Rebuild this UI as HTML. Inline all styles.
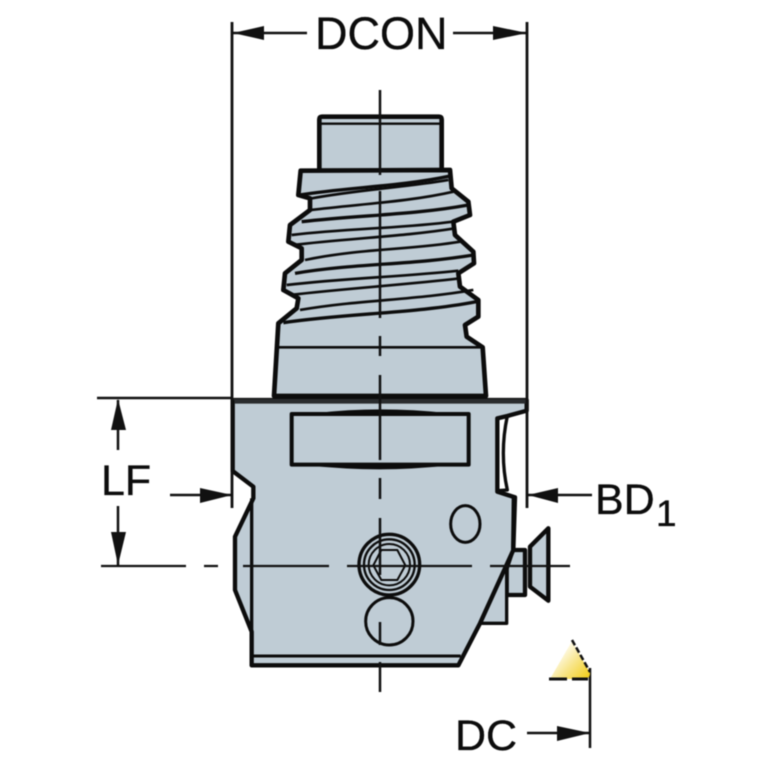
<!DOCTYPE html>
<html><head><meta charset="utf-8"><style>
html,body{margin:0;padding:0;background:#fff;width:767px;height:767px;overflow:hidden}
svg{display:block;filter:blur(.6px)}
text{font-family:"Liberation Sans",sans-serif;fill:#0c0c0c;stroke:#0c0c0c;stroke-width:.35px}
</style></head><body>
<svg width="767" height="767" viewBox="0 0 767 767" xmlns="http://www.w3.org/2000/svg">
<defs><linearGradient id="y" x1="1" y1="1" x2="0.2" y2="0.3"><stop offset="0" stop-color="#f2cc10"/><stop offset=".55" stop-color="#f8e58a"/><stop offset="1" stop-color="#fffdf5"/></linearGradient></defs>

<!-- upper part -->
<g transform="translate(260,100) scale(.33333)" stroke="#0c0c0c" stroke-linejoin="round" fill="#bfccd5">
<path stroke-width="14" d="M178,212 V58 Q178,50 186,50 H537 Q545,50 545,58 V212 Z"/>
<path stroke-width="7" fill="none" d="M178,71 H545"/>
<path stroke-width="14" d="M122,212 L570,210 L575,265 L625,305 L630,345 L580,365 L585,405 L640,455 L642,490 L595,520 L600,560 L655,600 L655,650 L615,675 L620,710 L668,742 L678,888 H42 L55,670 L110,625 L115,595 L70,570 L75,520 L125,480 L125,445 L85,425 L90,375 L150,330 L150,295 L115,285 Z"/>
<path stroke-width="8" fill="none" d="M55,742 H668"/>
<g fill="none">
<path stroke-width="10" d="M118,285 C260,262 420,260 570,228"/>
<path stroke-width="8" d="M150,296 C300,268 440,262 565,240"/>
<path stroke-width="8" d="M152,330 C300,312 450,305 580,275"/>
<path stroke-width="10" d="M125,365 C300,345 460,345 625,315"/>
<path stroke-width="8" d="M95,405 C260,385 430,385 578,365"/>
<path stroke-width="8" d="M100,435 C260,415 430,410 585,385"/>
<path stroke-width="8" d="M135,480 C300,445 450,450 600,425"/>
<path stroke-width="10" d="M105,520 C280,490 460,495 640,465"/>
<path stroke-width="8" d="M80,555 C250,535 430,530 595,512"/>
<path stroke-width="8" d="M90,585 C260,565 430,555 600,535"/>
<path stroke-width="8" d="M120,630 C290,600 470,600 640,570"/>
<path stroke-width="10" d="M70,668 C260,640 470,640 650,605"/>
</g>
</g>

<!-- body -->
<g transform="translate(220,390) scale(.33333)" stroke="#0c0c0c" stroke-linejoin="round" fill="#bfccd5">
<path stroke-width="13" d="M860,480 H915 V615 H860 Z"/>
<path stroke-width="13" d="M930,470 L985,415 V632 L930,590 Z"/>
<path stroke-width="10" d="M880,480 L860,540 V700 H780 Z"/>
<path stroke-width="13" d="M38,30 H920 V62 L862,78 L832,85 V305 L885,322 L880,480 L780,700 L715,826 H95 V725 L45,600 V440 L100,325 V290 L38,243 Z"/>
<path fill="#fff" stroke="none" d="M872,82 L917,70 V315 H890 L866,300 Q848,180 872,82 Z"/>
<path stroke-width="10" fill="none" d="M832,85 L862,78 Q838,190 862,300 L832,302 Z"/>
<path stroke-width="14" stroke="#2a2c2e" fill="none" d="M40,34 H920"/>
<path stroke-width="10" fill="none" d="M880,325 L878,480"/>
<path stroke-width="10" fill="none" d="M38,30 V245" />
<path stroke-width="10" fill="none" d="M95,325 V800"/>
<path stroke-width="9" fill="none" d="M95,798 H722"/>
<path stroke-width="12" d="M215,72 H746 V224 H215 Z"/>
<path stroke-width="6" fill="#0c0c0c" d="M290,72 Q480,50 680,72 Z"/>
<path stroke-width="6" fill="#0c0c0c" d="M270,224 Q480,246 680,224 Z"/>
<ellipse cx="736" cy="402" rx="44" ry="55" stroke-width="9"/>
<circle cx="508" cy="694" r="71" stroke-width="9"/>
<circle cx="508" cy="524" r="91" stroke-width="10"/>
<circle cx="508" cy="524" r="76" stroke-width="7"/>
<circle cx="508" cy="524" r="62" stroke-width="6"/>
<path stroke-width="6" fill="none" d="M460,526 L484,480 H532 L556,526 L532,570 H484 Z"/>
</g>

<!-- center lines and dimension lines -->
<g stroke="#111" fill="none">
<path stroke-width="2.5" d="M380,90 V175 M380,191 V318 M380,336 V356 M380,375 V460 M380,478 V499 M380,518 V575 M380,622 V645 M380,662 V692"/>
<path stroke-width="2.2" d="M101,566 H186 M204,566 H218 M243,566 H329 M347,566 H472 M490,566 H570"/>
<path stroke-width="2.5" d="M97,398 H232"/>
<path stroke-width="2.8" d="M232,22 V508 M527,22 V508"/>
<path stroke-width="2.5" d="M232,33 H307 M453,33 H527"/>
<path stroke-width="2.5" d="M118,400 V450 M118,506 V566"/>
<path stroke-width="2.5" d="M170,495 H232 M527,495 H592"/>
<path stroke-width="2.5" d="M590,668 V748 M527,733 H590"/>
</g>

<!-- yellow insert -->
<path d="M572,641 L590,673 Q590,679 584,679 H550 Z" fill="url(#y)"/>
<path d="M549,679 H567 M572,679 H588" stroke="#111" stroke-width="3" fill="none"/>
<path d="M572,640 L590,672" stroke="#111" stroke-width="2.5" stroke-dasharray="6 2.5" fill="none"/>

<!-- arrowheads -->
<g fill="#111" stroke="none">
<path d="M233,33 L264,26 V40 Z"/>
<path d="M527,33 L493,26 V40 Z"/>
<path d="M118,399 L111,430 H126 Z"/>
<path d="M118,565 L111,532 H126 Z"/>
<path d="M232,495 L200,488 V503 Z"/>
<path d="M528,495 L558,488 V503 Z"/>
<path d="M590,733 L557,726 V741 Z"/>
</g>

<text x="315" y="49" font-size="45">DCON</text>
<text x="101" y="495" font-size="43">LF</text>
<text x="595" y="514" font-size="43">BD</text>
<text x="656" y="526" font-size="37">1</text>
<text x="455" y="750" font-size="43">DC</text>
</svg>
</body></html>
